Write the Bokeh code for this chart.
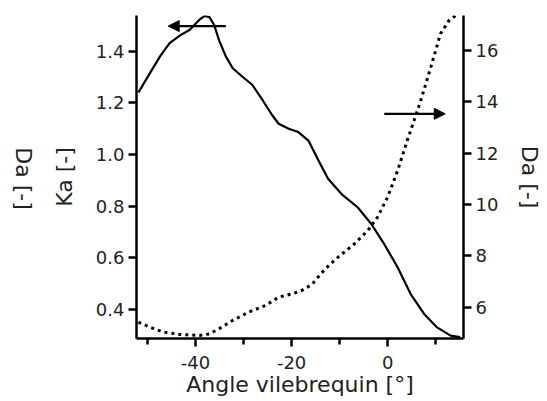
import math
from bokeh.plotting import figure
from bokeh.layouts import row
from bokeh.models import LinearAxis, Range1d, FixedTicker, Arrow, NormalHead, PrintfTickFormatter
from bokeh.core.properties import value
from bokeh.embed import file_html
from bokeh.resources import INLINE

# --- data ---
ka_angle = [-51.9, -49.5, -47.4, -45.4, -43.3, -41.2, -39.2, -38.1, -37.1, -36.1, -35.1, -33.7,
            -32.3, -30.3, -28.2, -26.1, -24.1, -22.7, -20.6, -18.6, -16.5, -14.4, -12.4, -9.6,
            -6.2, -3.4, -0.7, 2.1, 4.8, 7.6, 10.3, 13.1, 15.1]
ka_values = [1.240, 1.315, 1.380, 1.431, 1.460, 1.483, 1.522, 1.536, 1.532, 1.500, 1.442, 1.380,
             1.335, 1.302, 1.270, 1.212, 1.154, 1.119, 1.100, 1.087, 1.054, 0.977, 0.906, 0.847,
             0.795, 0.731, 0.653, 0.563, 0.460, 0.383, 0.331, 0.299, 0.293]
da_angle = [-51.9, -49.5, -46.7, -43.3, -39.2, -37.1, -35.1, -32.3, -28.9, -25.4, -22.7, -19.9,
            -17.9, -15.8, -13.1, -10.3, -6.9, -4.1, -2.1, 0.0, 2.1, 4.1, 5.5, 6.9, 9.0, 11.0,
            12.8, 14.2]
da_values = [5.42, 5.22, 5.03, 4.94, 4.90, 4.96, 5.16, 5.48, 5.81, 6.07, 6.39, 6.52,
             6.65, 6.88, 7.47, 7.95, 8.47, 8.99, 9.51, 10.29, 11.33, 12.50, 13.27, 14.05, 15.35, 16.65,
             17.17, 17.36]
x_ticks = [-40, -20, 0]
x_minor_ticks = [-50, -30, -10, 10]
ka_ticks = [0.4, 0.6, 0.8, 1.0, 1.2, 1.4]
da_ticks = [6, 8, 10, 12, 14, 16]
x_limits = (-52.3, 15.8)
ka_limits = (0.288, 1.538)
da_limits = (4.78, 17.36)
# arrows: (x_start, x_end, y)
ka_arrow = (-33.7, -45.7, 1.497)
da_arrow = (-0.7, 12.0, 13.53)

FONT = "DejaVu Sans"
TXT = "#222222"
H = 400
LW = 40  # width of the strip holding the outer left "Da [-]" label

p = figure(width=545 - LW, height=H, output_backend="svg", toolbar_location=None,
           x_range=Range1d(*x_limits), y_range=Range1d(*ka_limits),
           min_border_left=136 - LW, min_border_right=74, min_border_top=15, min_border_bottom=62)
p.outline_line_color = None
p.grid.visible = False
p.background_fill_color = "white"
p.border_fill_color = "white"
p.extra_y_ranges = {"da": Range1d(*da_limits)}

def style(ax):
    ax.axis_line_width = 2.5
    ax.axis_line_color = "black"
    ax.major_tick_line_width = 2.5
    ax.major_tick_line_color = "black"
    ax.major_tick_in = 0
    ax.major_tick_out = 8
    ax.minor_tick_line_color = None
    ax.major_label_text_font = FONT
    ax.major_label_text_font_size = "18px"
    ax.major_label_text_color = TXT
    ax.axis_label_text_font = FONT
    ax.axis_label_text_font_size = "22px"
    ax.axis_label_text_font_style = "normal"
    ax.axis_label_text_color = TXT

# bottom axis
xa = p.xaxis[0]
style(xa)
xa.ticker = FixedTicker(ticks=x_ticks, minor_ticks=x_minor_ticks)
xa.formatter = PrintfTickFormatter(format="%d")
xa.minor_tick_line_color = "black"
xa.minor_tick_line_width = 2.5
xa.minor_tick_in = 0
xa.minor_tick_out = 6
xa.major_label_standoff = 9
xa.axis_label = "Angle vilebrequin [°]"
xa.axis_label_standoff = 0

# left axis (Ka)
ya = p.yaxis[0]
style(ya)
ya.ticker = FixedTicker(ticks=ka_ticks)
ya.formatter = PrintfTickFormatter(format="%.1f")
ya.major_label_standoff = 4
ya.axis_label = "Ka [-]"
ya.axis_label_standoff = 16

# right axis (Da)
ra = LinearAxis(y_range_name="da", ticker=FixedTicker(ticks=da_ticks), axis_label="Da [-]")
style(ra)
ra.formatter = PrintfTickFormatter(format="%d")
ra.major_label_standoff = 4
ra.axis_label_standoff = 16
p.add_layout(ra, "right")

p.line(ka_angle, ka_values, line_color="black", line_width=2.2, line_join="round")
p.line(da_angle, da_values, line_color="black", line_width=3, line_dash="3 4",
       y_range_name="da")

p.add_layout(Arrow(x_start=ka_arrow[0], x_end=ka_arrow[1], y_start=ka_arrow[2], y_end=ka_arrow[2],
                   line_width=2.2, line_color="black",
                   end=NormalHead(size=11, line_color="black", fill_color="black")))
p.add_layout(Arrow(x_start=da_arrow[0], x_end=da_arrow[1], y_start=da_arrow[2], y_end=da_arrow[2],
                   line_width=2.2, line_color="black", y_range_name="da",
                   end=NormalHead(size=11, line_color="black", fill_color="black")))

# narrow strip on the far left holding the second "Da [-]" title (reads top to bottom)
s = figure(width=LW, height=H, output_backend="svg", toolbar_location=None,
           x_range=Range1d(0, LW), y_range=Range1d(0, H), x_axis_type=None, y_axis_type=None,
           min_border_left=0, min_border_right=0, min_border_top=0, min_border_bottom=0)
s.outline_line_color = None
s.grid.visible = False
s.text(x=[23], y=[H - 202], text=["Da [-]"], angle=-math.pi / 2,
       text_align="center", text_baseline="middle",
       text_font=value(FONT), text_font_size="22px", text_color=TXT)

layout = row(s, p, spacing=0)
open("out.html", "w").write(file_html(layout, INLINE))
